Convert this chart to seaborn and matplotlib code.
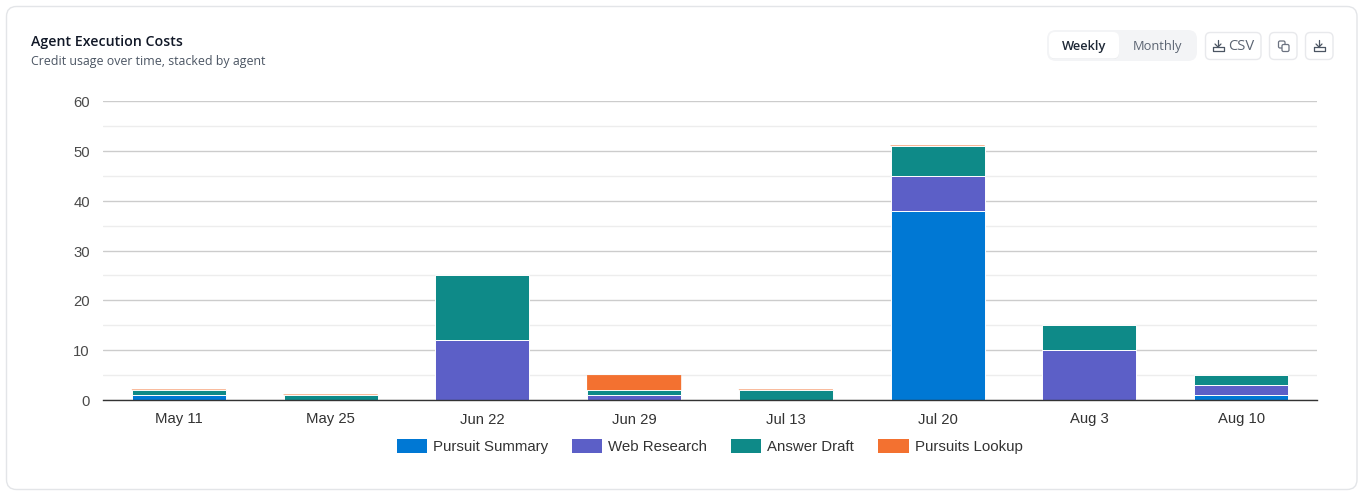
import matplotlib
matplotlib.use("Agg")
import matplotlib.pyplot as plt
from matplotlib.patches import FancyBboxPatch
from matplotlib.transforms import ScaledTranslation
import pandas as pd
import seaborn as sns

weeks = ["May 11", "May 25", "Jun 22", "Jun 29", "Jul 13", "Jul 20", "Aug 3", "Aug 10"]
pursuit_summary = [1, 0, 0, 0, 0, 38, 0, 1]
web_research = [0, 0, 12, 1, 0, 7, 10, 2]
answer_draft = [1, 1, 13, 1, 2, 6, 5, 2]
pursuits_lookup = [0.1, 0.1, 0, 3, 0.1, 0.1, 0, 0]

series_names = ["Pursuit Summary", "Web Research", "Answer Draft", "Pursuits Lookup"]
series_values = [pursuit_summary, web_research, answer_draft, pursuits_lookup]
series_colors = ["#0078d4", "#5c5fc7", "#0e8a88", "#f37130"]
major_ticks = [0, 10, 20, 30, 40, 50, 60]
minor_ticks = [5, 15, 25, 35, 45, 55]

W, H = 1364, 499
sns.set_theme(style="white")
plt.rcParams["font.family"] = ["Liberation Sans", "DejaVu Sans"]
fig = plt.figure(figsize=(W / 100, H / 100), dpi=100, facecolor="white")

# pixel-space layer for the card and toolbar
bg = fig.add_axes([0, 0, 1, 1], zorder=0)
bg.set_xlim(0, W)
bg.set_ylim(H, 0)
bg.axis("off")


def box(x0, y0, x1, y1, r, fc, ec="none", lw=1.0, z=1):
    bg.add_patch(FancyBboxPatch((x0, y0), x1 - x0, y1 - y0,
                                boxstyle=f"round,pad=0,rounding_size={r}",
                                fc=fc, ec=ec, lw=lw, zorder=z))


def stroke(xs, ys, c="#6b7280", lw=0.9):
    bg.plot(xs, ys, color=c, lw=lw, solid_capstyle="round", solid_joinstyle="round", zorder=4)


def tray(cx, cy):
    stroke([cx, cx], [cy - 6, cy + 1], c="#4b5563")
    stroke([cx - 3, cx, cx + 3], [cy - 2, cy + 1, cy - 2], c="#4b5563")
    stroke([cx - 5.5, cx - 5.5, cx + 5.5, cx + 5.5, cx + 2.5, cx - 2.5, cx - 5.5],
           [cy + 0.5, cy + 4.5, cy + 4.5, cy + 0.5, cy + 0.5, cy + 0.5, cy + 0.5], c="#4b5563")


box(6.5, 6.5, 1357, 489.5, 10, "white", "#e3e5e8", 1.0)
bg.text(31, 41.5, "Agent Execution Costs", family="Open Sans", fontsize=10.2,
        fontweight="semibold", color="#111827", va="center", ha="left")
bg.text(31, 61.5, "Credit usage over time, stacked by agent", family="Open Sans",
        fontsize=8.95, color="#4b5563", va="center", ha="left")

box(1047, 30, 1197, 61, 9, "#f3f4f6")
box(1049.5, 33.5, 1119, 59, 6, "#e4e6e9", z=2)
box(1049, 32, 1119, 58.5, 6, "white", z=3)
bg.text(1084, 46.5, "Weekly", family="Open Sans", fontsize=9.3, fontweight="semibold",
        color="#1f2937", ha="center", va="center", zorder=4)
bg.text(1157.5, 46.5, "Monthly", family="Open Sans", fontsize=9.3, color="#5b6472",
        ha="center", va="center", zorder=4)

box(1205.5, 32.5, 1261, 59.5, 5, "white", "#e8e9ec")
box(1269.5, 32.5, 1297, 59.5, 5, "white", "#e8e9ec")
box(1305.5, 32.5, 1333, 59.5, 5, "white", "#e8e9ec")
tray(1218, 46)
bg.text(1241.5, 46.5, "CSV", family="Open Sans", fontsize=10.6, color="#5b6472",
        ha="center", va="center", zorder=4)
tray(1319, 46)
box(1278.5, 41, 1285, 48, 1.5, "none", "#6b7280", 0.9, z=4)
box(1282, 44.5, 1289, 51.5, 1.5, "white", "#6b7280", 0.9, z=5)

# chart
ax = fig.add_axes([103 / W, 1 - 400 / H, (1317 - 103) / W, (400 - 101) / H],
                  zorder=2)
ax.patch.set_alpha(0)

frame = pd.DataFrame({"week": weeks})
bottom = [0.0] * len(weeks)
for i, (name, values, color) in enumerate(zip(series_names, series_values, series_colors)):
    frame["value"] = values
    # the top series carries no white outline, so its thin slivers stay visible
    edge = 0.7 if i < len(series_names) - 1 else 0
    sns.barplot(data=frame, x="week", y="value", order=weeks, color=color, width=0.62,
                saturation=1, bottom=bottom, label=name, edgecolor="white", linewidth=edge,
                errorbar=None, ax=ax, zorder=3)
    bottom = [b + v for b, v in zip(bottom, values)]
for patch in ax.containers[-1]:
    patch.set_snap(False)

ax.set_xlim(-0.5, len(weeks) - 0.5)
ax.set_ylim(0, 60)
ax.set_xlabel("")
ax.set_ylabel("")
ax.set_yticks(major_ticks)
ax.set_yticks(minor_ticks, minor=True)
ax.grid(which="major", axis="y", color="#cccccc", lw=1, zorder=0)
ax.grid(which="minor", axis="y", color="#ededed", lw=1, zorder=0)
ax.grid(False, axis="x")
ax.set_axisbelow(True)
for side in ["top", "left", "right"]:
    ax.spines[side].set_visible(False)
ax.spines["bottom"].set_color("#333333")
ax.spines["bottom"].set_linewidth(1)
ax.spines["bottom"].set_zorder(5)
ax.tick_params(axis="both", which="both", length=0)
ax.tick_params(axis="x", labelsize=10.75, labelcolor="#333333", pad=9)
ax.tick_params(axis="y", labelsize=10.75, labelcolor="#4a4a4a", pad=9.5)
ax.yaxis.set_ticks_position("left")
ax.tick_params(axis="y", which="minor", labelleft=False)
for label in ax.get_yticklabels():
    label.set_transform(label.get_transform() + ScaledTranslation(0, -0.6 / 100, fig.dpi_scale_trans))

handles, labels = ax.get_legend_handles_labels()
if ax.get_legend() is not None:
    ax.get_legend().remove()
leg = fig.legend(handles, labels, loc="center", bbox_to_anchor=(709.5 / W, 1 - 446.5 / H),
                 ncol=4, frameon=False, fontsize=10.85, labelcolor="#333333",
                 handlelength=2.0, handleheight=1.0, handletextpad=0.4,
                 columnspacing=1.6, borderpad=0, borderaxespad=0)
for h in leg.legend_handles:
    h.set_edgecolor("none")

fig.savefig("out.png", dpi=100, facecolor="white")
